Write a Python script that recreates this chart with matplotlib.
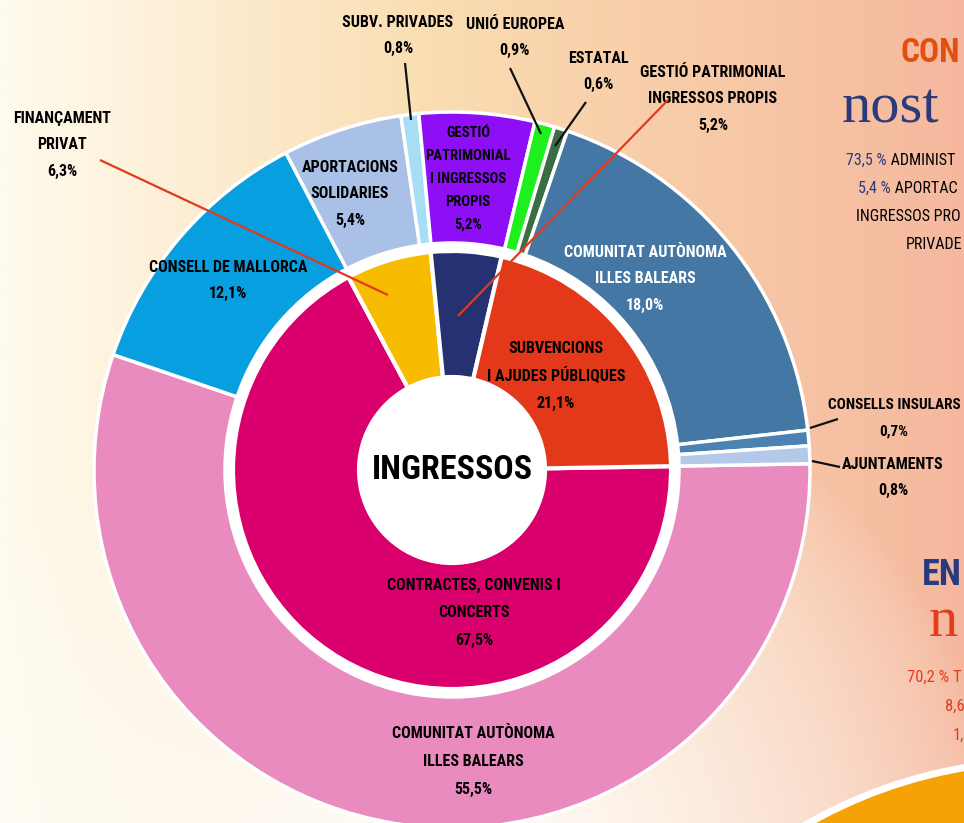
import numpy as np
import matplotlib
matplotlib.use("Agg")
import matplotlib.pyplot as plt
from matplotlib import font_manager
from matplotlib.patches import Circle

W, H = 964, 823

# outer ring: sources of income
outer_labels = ["COMUNITAT AUTÒNOMA\nILLES BALEARS", "CONSELL DE MALLORCA", "APORTACIONS\nSOLIDARIES",
                "SUBV. PRIVADES", "GESTIÓ\nPATRIMONIAL\nI INGRESSOS\nPROPIS", "UNIÓ EUROPEA", "ESTATAL",
                "COMUNITAT AUTÒNOMA\nILLES BALEARS", "CONSELLS INSULARS", "AJUNTAMENTS"]
outer_values = [55.5, 12.1, 5.4, 0.8, 5.2, 0.9, 0.6, 18.0, 0.7, 0.8]
outer_colors = ["#e98bbf", "#079fe0", "#a9c1e6", "#a6def5", "#8e0ff5", "#1ef01e", "#3b6d44",
                "#4477a4", "#4a82b3", "#b4c9e9"]

# inner ring: type of income
inner_labels = ["CONTRACTES, CONVENIS I\nCONCERTS", "FINANÇAMENT\nPRIVAT",
                "GESTIÓ PATRIMONIAL\nINGRESSOS PROPIS", "SUBVENCIONS\nI AJUDES PÚBLIQUES"]
inner_values = [67.5, 6.3, 5.2, 21.1]
inner_colors = ["#d9006d", "#f7bc00", "#253170", "#e3391a"]

names = {f.name for f in font_manager.fontManager.ttflist}
cond = next((n for n in ["Liberation Sans Narrow", "Roboto Condensed", "Open Sans Condensed"]
             if n in names), "DejaVu Sans")
FONT = [cond, "DejaVu Sans"]
SERIF = ["Liberation Serif", "DejaVu Serif"]

fig = plt.figure(figsize=(W / 100, H / 100), dpi=100)
ax = fig.add_axes([0, 0, 1, 1])

# background gradient
xx, yy = np.meshgrid(np.linspace(0, W, 240), np.linspace(0, H, 205))
t = xx / W
left = np.array([255, 251, 238]) / 255
mid = np.array([250, 221, 178]) / 255
right = np.array([245, 184, 158]) / 255
a = np.clip(t / 0.45, 0, 1)[..., None]
b = np.clip((t - 0.45) / 0.55, 0, 1)[..., None]
base = np.where(t[..., None] < 0.45, left * (1 - a) + mid * a, mid * (1 - b) + right * b)
d = np.hypot(xx - 450, yy - 900)
w = np.clip(1 - d / 560, 0, 1)[..., None] ** 0.7
bg = base * (1 - w) + w
ax.imshow(bg, extent=[0, W, H, 0], zorder=0, interpolation="bilinear")

# orange disc bottom right
ax.add_patch(Circle((1045, 1240), 482, color="white", zorder=1))
ax.add_patch(Circle((1045, 1240), 475, color="#f6a106", zorder=1))

cx, cy = 452, 470
ax.add_patch(Circle((cx, cy), 228, color="white", zorder=1))

# y axis gets inverted below, so data-counterclockwise reads clockwise on screen
ax.pie(outer_values, colors=outer_colors, radius=358, center=(cx, cy), startangle=-1,
       counterclock=True, wedgeprops=dict(width=131, edgecolor="white", linewidth=2.5),
       frame=True)
ax.pie(inner_values, colors=inner_colors, radius=219, center=(cx, cy), startangle=-1,
       counterclock=True, wedgeprops=dict(width=126, edgecolor="white", linewidth=3),
       frame=True)
ax.set_xlim(0, W)
ax.set_ylim(H, 0)  # pixel coords, y down
ax.set_aspect("equal")
ax.axis("off")
ax.add_patch(Circle((cx, cy), 91, color="white", zorder=3))


def pct(v):
    return f"{v:.1f}%".replace(".", ",")


def label(x, y, txt, size=11.5, color="black", gap=26.5):
    for i, line in enumerate(txt.split("\n")):
        ax.text(x, y + i * gap, line, ha="center", va="center", fontsize=size,
                fontweight="bold", color=color, family=FONT, zorder=5)


ax.text(cx, 470, "INGRESSOS", ha="center", va="center", fontsize=24.5, fontweight="bold",
        family=FONT, zorder=5)

# labels inside the rings
label(474, 585, inner_labels[0] + "\n" + pct(inner_values[0]), gap=27.5)
label(556, 348, inner_labels[3] + "\n" + pct(inner_values[3]), gap=27.5)
label(473, 733, outer_labels[0] + "\n" + pct(outer_values[0]), gap=28)
label(228, 267, outer_labels[1] + "\n" + pct(outer_values[1]))
label(350, 167, outer_labels[2] + "\n" + pct(outer_values[2]))
label(468, 133, outer_labels[4] + "\n" + pct(outer_values[4]), size=10.5, gap=23)
label(645, 252, outer_labels[7] + "\n" + pct(outer_values[7]), color="white")

# labels outside with leader lines
label(62, 118, inner_labels[1] + "\n" + pct(inner_values[1]))
label(713, 72, inner_labels[2] + "\n" + pct(inner_values[2]))
label(398, 22, outer_labels[3] + "\n" + pct(outer_values[3]))
label(515, 24, outer_labels[5] + "\n" + pct(outer_values[5]))
label(598, 58, outer_labels[6] + "\n" + pct(outer_values[6]))
label(894, 405, outer_labels[8] + "\n" + pct(outer_values[8]), size=11)
label(893, 464, outer_labels[9] + "\n" + pct(outer_values[9]))

red = "#e23a1e"
leaders = [((100, 160), (388, 295), red), ((668, 100), (458, 316), red),
           ((405, 63), (411, 120), "#111111"), ((510, 68), (541, 134), "#111111"),
           ((586, 102), (555, 146), "#111111"), ((838, 419), (810, 428), "#111111"),
           ((812, 461), (840, 467), "#111111")]
for (x0, y0), (x1, y1), c in leaders:
    ax.plot([x0, x1], [y0, y1], color=c, lw=1.6, zorder=6, solid_capstyle="butt")

# visible parts of the neighbouring panel, cropped by the frame
ax.text(900, 53, "CON", ha="left", va="center", fontsize=24, fontweight="bold",
        color="#e2500f", family=FONT, zorder=5)
ax.text(842, 108, "nost", ha="left", va="center", fontsize=42, color="#2b3a7a",
        family=SERIF, zorder=5)
side = [(846, 160, "73,5 %", " ADMINIST"), (858, 188, "5,4 %", " APORTAC"),
        (856, 216, "", "INGRESSOS PRO"), (906, 244, "", "PRIVADE")]
for x, y, p, rest in side:
    tt = ax.text(x, y, p, ha="left", va="center", fontsize=11.5, color="#2b3a7a",
                 family=FONT, zorder=5)
    ax.annotate(rest, xycoords=tt, xy=(1, 0.5), va="center", ha="left", fontsize=11.5,
                color="black", family=FONT, zorder=5)
ax.text(922, 575, "EN", ha="left", va="center", fontsize=26, fontweight="bold",
        color="#2b3a7a", family=FONT, zorder=5)
ax.text(929, 622, "n", ha="left", va="center", fontsize=42, color="#e03e1e",
        family=SERIF, zorder=5)
for x, y, s in [(907, 677, "70,2 % T"), (945, 706, "8,6"), (953, 735, "1,")]:
    ax.text(x, y, s, ha="left", va="center", fontsize=12, color="#e03e1e", family=FONT,
            zorder=5)

fig.savefig("out.png", dpi=100)
